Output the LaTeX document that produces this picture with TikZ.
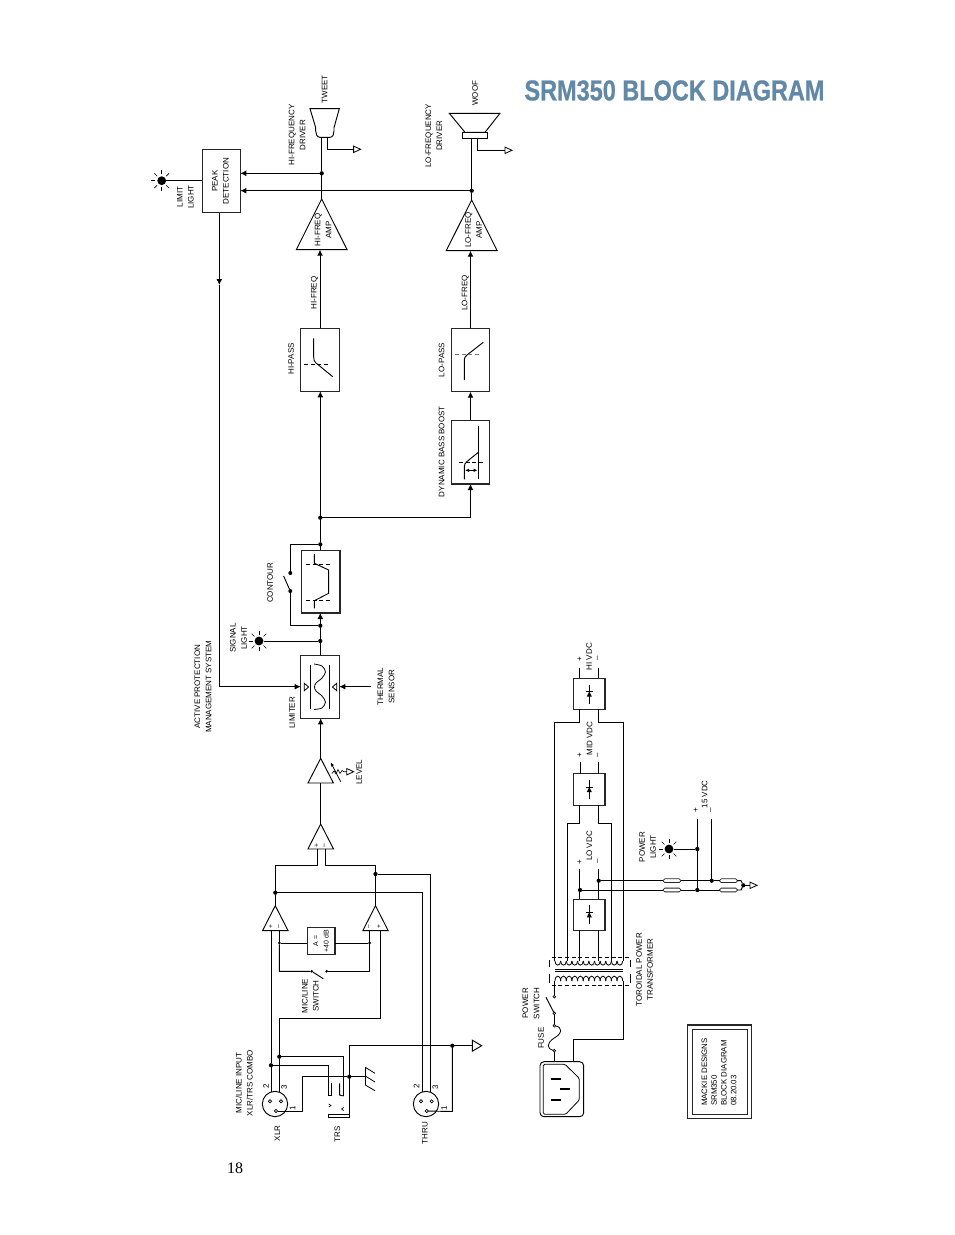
\documentclass[tikz,border=0pt]{standalone}
\usepackage{fontspec}
\setmainfont{Liberation Sans}
\newfontfamily\pgnumfont{Liberation Serif}
\newfontfamily\ttlfont[BoldFeatures={FakeBold=0.8}]{Liberation Sans}
\usetikzlibrary{arrows.meta,calc}
\definecolor{ttl}{HTML}{6288A8}
\tikzset{
  x=.75pt,y=-.75pt,
  wire/.style={draw=black,line width=.7pt},
  arr/.style={wire,-{Latex[length=4.5pt,width=4.4pt]}},
  box/.style={draw=black!85,line width=.8pt,inner sep=0pt,outer sep=0pt},
  fusebox/.style={draw=black!85,line width=.6pt,rounded corners=1.2pt,inner sep=0pt,outer sep=0pt,minimum height=2.8pt,minimum width=13.3pt},
  dot/.style={circle,fill=black,inner sep=0pt,outer sep=0pt,minimum size=3.2pt},
  smalldot/.style={circle,fill=black,inner sep=0pt,outer sep=0pt,minimum size=2.2pt},
  pinhole/.style={circle,draw=black,line width=.5pt,fill=white,inner sep=0pt,outer sep=0pt,minimum size=2.4pt},
  lbl/.style={rotate=90,inner sep=0pt,align=center,font=\fontsize{6}{8.3}\selectfont},
  sgn/.style={rotate=90,inner sep=0pt,font=\fontsize{5}{5}\selectfont},
  dsh/.style={draw=black,line width=.6pt,dash pattern=on 3pt off 2pt},
}
\newcommand{\bx}[5]{\pgfmathsetmacro\ww{(#4-#2)*.75}\pgfmathsetmacro\hh{(#5-#3)*.75}%
  \node[box,minimum width=\ww pt,minimum height=\hh pt] (#1) at ({(#2+#4)/2},{(#3+#5)/2}) {};}
\newcommand{\tri}[5]{\draw[wire] (#2,#3) -- ({#2-#5},#4) -- ({#2+#5},#4) -- cycle;
  \coordinate (#1-a) at (#2,#3); \coordinate (#1-b) at (#2,#4);}
\newcommand{\gnd}[3]{\coordinate (#1) at (#2,#3);
  \draw[wire,line width=.6pt] (#2,{#3-3.2}) -- ({#2+7},#3) -- (#2,{#3+3.2}) -- cycle;}
\newcommand{\lmp}[3]{\node[circle,fill=black,inner sep=0pt,minimum size=6.6pt] (#1) at (#2,#3) {};
  \foreach \aa in {0,45,...,315}{\draw[line width=.5pt] ($(#2,#3)+(\aa:4.8pt)$) -- ($(#2,#3)+(\aa:7.8pt)$);}}
\newcommand{\rct}[2]{\draw[wire,line width=.9pt] (#1,{#2-9.5}) -- (#1,{#2+9.5});
  \draw[wire] ({#1-3.2},{#2-2.5}) -- ({#1+3.2},{#2-2.5});
  \fill ({#1-2.5},{#2+2.5}) -- ({#1+2.5},{#2+2.5}) -- (#1,{#2-2.5}) -- cycle;}
\begin{document}
\begin{tikzpicture}
\useasboundingbox (0,0) rectangle (954,1235);
\fill[white] (0,0) rectangle (954,1235);

% title and page number
\node[text=ttl,inner sep=0pt,font=\fontsize{21.6}{24}\selectfont\ttlfont\bfseries] (title) at (674.5,90.5) {\scalebox{0.815}[1]{SRM350 BLOCK DIAGRAM}};
\node[inner sep=0pt,font=\fontsize{12}{14}\selectfont\pgnumfont] (page) at (235,1168) {18};

% ---------- outputs
\bx{peak}{202.3}{149.3}{240.3}{212.7}
\lmp{limlamp}{161.7}{180.7}
\draw[wire] (limlamp) -- (limlamp -| peak.west);
\node[lbl] (limlbl) at (185.5,197) {LIMIT\\LIGHT};
\node[lbl] (peaklbl) at (220.5,181) {PEAK\\DETECTION};

% tweeter
\draw[wire] (310,108.7) -- (339.3,108.7) -- (334,127.7) -- (334,131) .. controls (334,134) and (333,137.3) .. (330,137.3) -- (320,137.3) .. controls (317,137.3) and (315.7,134) .. (315.7,131) -- (315.7,127.7) -- cycle;
\coordinate (twb) at (321.7,137.3);
\coordinate (twg) at (327.3,137.3);
\gnd{twgnd}{353.6}{149.3}
\draw[wire] (twg) |- (twgnd);
\node[dot] (twd) at (321.7,173.3) {};
\tri{hfa}{321.7}{199}{249.7}{25.4}
\draw[wire] (twb) -- (twd) -- (hfa-a);
\draw[arr] (twd) -- (twd -| peak.east);
\node[lbl] at (324.5,89.3) (twl) {TWEET};
\node[lbl] at (297,135) (hfdl) {HI-FREQUENCY\\DRIVER};
\node[lbl] at (323,230) (hfal) {HI-FREQ\\AMP};

% woofer
\draw[wire] (449.3,113.3) -- (500,113.3) -- (485,132.3) -- (465,132.3) -- cycle;
\draw[wire] (462.3,132.3) rectangle (487.7,138.7);
\coordinate (wfb) at (471.7,138.7);
\coordinate (wfg) at (477.3,138.7);
\gnd{wfgnd}{505}{150.3}
\draw[wire] (wfg) |- (wfgnd);
\node[dot] (wfd) at (471.7,190.7) {};
\tri{lfa}{471.7}{200}{250.7}{25.5}
\draw[wire] (wfb) -- (wfd) -- (lfa-a);
\draw[arr] (wfd) -- (wfd -| peak.east);
\node[lbl] at (475,93.3) (wfl) {WOOF};
\node[lbl] at (433.8,135.7) (lfdl) {LO-FREQUENCY\\DRIVER};
\node[lbl] at (473.5,230) (lfal) {LO-FREQ\\AMP};

% filters
\bx{hp}{300.7}{328.3}{339.3}{391.3}
\bx{lp}{451.3}{328.3}{489.7}{391.7}
\bx{dbb}{451.3}{420.3}{489.7}{484}
\draw[arr] (hp.north) coordinate (hpo) -- (hpo |- hfa-b);
\draw[arr] (lp.north) coordinate (lpo) -- (lpo |- lfa-b);
\node[lbl] at (314.7,293) (hfl) {HI-FREQ};
\node[lbl] at (465.3,293) (lfl) {LO-FREQ};
\draw[wire] (313.7,338.3) -- (313.7,357) .. controls (313.7,360) and (314,361) .. (316,363) -- (332.7,376.7);
\draw[dsh] (304,364.3) -- (329.3,364.3);
\draw[wire] (464.3,380) -- (464.3,360) .. controls (464.3,357.5) and (465,357) .. (467,355) -- (483.3,342.3);
\draw[dsh,draw=black!55] (455,354.7) -- (480,354.7);
\draw[wire] (478.3,426) -- (478.3,479.3);
\draw[wire] (464.3,479.3) -- (464.3,467) .. controls (464.3,464) and (465,463.5) .. (467,461.5) -- (478.3,452.3);
\draw[dsh] (459,462.3) -- (484,462.3);
\draw[wire,{Latex[length=3pt,width=2.6pt]}-{Latex[length=3pt,width=2.6pt]}] (465,470.3) -- (477.6,470.3);
\draw[arr] (dbb.north) -- (lp.south);
\node[lbl] at (291,359) (hpl) {HI-PASS};
\node[lbl] at (441.7,360) (lpl) {LO-PASS};
\node[lbl] at (441.7,451.7) (dbbl) {DYNAMIC BASS BOOST};

% contour
\bx{cont}{301.7}{550.3}{340}{613}
\node[dot] (j1) at (320.3,517.7) {};
\node[dot] (j2) at (320.3,544.3) {};
\node[dot] (j3) at (320.3,625.7) {};
\node[dot] (j4) at (320.3,641) {};
\draw[arr] (j2) -- (j1 |- hp.south);
\draw[wire] (j2) -- (j2 |- cont.north);
\draw[arr] (j1) -| (dbb.south);
\node[smalldot,minimum size=3pt] (sw1) at (290.3,573) {};
\node[smalldot,minimum size=3pt] (sw2) at (290.3,591) {};
\coordinate (csb) at (283.6,576);
\draw[wire] (j2) -| (sw1);
\draw[wire] (sw2) |- (j3);
\draw[wire] (sw2) -- (csb);
\draw[wire] (314.3,554) -- (314.3,563.3) -- (328.7,570) -- (328.7,593.3) -- (314.3,600.7) -- (314.3,608.3);
\draw[dsh] (306,564) -- (330.7,564);
\draw[dsh] (306,600) -- (330.7,600);
\node[lbl] at (270,582.7) (contl) {CONTOUR};

% limiter
\bx{lim}{300.7}{655.3}{339.3}{718.3}
\draw[wire] (j4 |- lim.north) -- (j4) -- (j3);
\draw[arr] (j3) -- (j3 |- cont.south);
\lmp{siglamp}{259}{641}
\draw[wire] (siglamp) -- (j4);
\node[lbl] at (238.5,638) (sigl) {SIGNAL\\LIGHT};
\draw[wire] (310.3,665) -- (310.3,709.3);
\draw[wire] (329.5,665) -- (329.5,709.3);
\draw[wire,line width=.6pt] plot[smooth] coordinates {(314,664)(322,666)(325.5,672)(322,678)(316,683)(314.5,687)(316,691)(322,696)(325.5,702)(322,708)(314,709.5)};
\draw[wire,line width=.6pt] (304.3,683.3) -- (308.6,687) -- (304.3,690.7) -- cycle;
\draw[wire,line width=.6pt] (336.7,683.3) -- (332.4,687) -- (336.7,690.7) -- cycle;
\coordinate (apm) at (219.3,285);
\coordinate (apc) at (219.3,686.7);
\draw[arr] (apm |- peak.south) -- (apm);
\draw[wire] (apm) -- (apc);
\draw[arr] (apc) -- (apc -| lim.west);
\coordinate (thm) at (370.7,686.7);
\draw[arr] (thm) -- (thm -| lim.east);
\node[lbl] at (386,686.7) (thml) {THERMAL\\SENSOR};
\node[lbl] at (203,686.7) (apml) {ACTIVE PROTECTION\\MANAGEMENT SYSTEM};
\node[lbl] at (292,712.7) (liml) {LIMITER};

% level amp
\tri{lvl}{320.7}{758.3}{783}{12.7}
\draw[arr] (lvl-a) -- (lvl-a |- lim.south);
\draw[wire,line width=.6pt,-{Latex[length=3pt,width=2.6pt]}] (340.7,781.7) -- (330.7,762.3);
\gnd{lvlg}{346.7}{771.7}
\draw[wire,line width=.5pt] (332,773.5) -- (334,771) -- (336,774) -- (338,769.5) -- (340,773.5) -- (342,770.5) -- (344,771.7) -- (lvlg);
\node[lbl] at (359,772.3) (lvll) {LEVEL};

% input stage
\tri{sum}{320.7}{824}{849}{12.8}
\draw[wire] (lvl-b) -- (sum-a);
\node[sgn] (sump) at (316.7,845.3) {+};
\node[sgn] (summ) at (325,845.3) {–};
\tri{la}{275.3}{905.7}{930.7}{12.8}
\tri{ra}{375.5}{905.7}{930.7}{12.7}
\node[sgn] (lap) at (271,927) {+};
\node[sgn] (lam) at (279.3,927) {–};
\node[sgn] (ram) at (369.7,927) {–};
\node[sgn] (rap) at (379.3,927) {+};
\node[dot] (ld) at (275.3,892.7) {};
\node[dot] (rd) at (375.5,874) {};
\coordinate (sl) at (317.7,849);
\coordinate (sr) at (325.3,849);
\coordinate (t1) at (317.7,865.3);
\coordinate (t2) at (325.3,865.3);
\draw[wire] (sl) -- (t1) -| (ld) -- (la-a);
\draw[wire] (sr) -- (t2) -| (rd) -- (ra-a);
% gain box
\bx{gain}{307.3}{927.3}{335}{954.7}
\node[lbl,font=\fontsize{5.2}{8}\selectfont] (gainl) at (321,941) {A =\\+40 dB};
\coordinate (lam0) at (279.3,930.7);
\coordinate (ram0) at (369.7,930.7);
\node[smalldot] (gl) at (279.3,943) {};
\node[smalldot] (gr) at (369.7,943) {};
\draw[wire] (lam0) -- (gl) -- (gain.west |- gl);
\draw[wire] (ram0) -- (gr) -- (gain.east |- gr);
\node[smalldot] (ms1) at (311.7,971.3) {};
\node[smalldot] (ms2) at (326.7,971.3) {};
\coordinate (msb) at (323.3,978.7);
\draw[wire] (gl) |- (ms1) -- (msb);
\draw[wire] (gr) |- (ms2);
\node[lbl] at (310.3,996) (msl) {MIC/LINE\\SWITCH};

% XLR and TRS
\node[circle,draw=black,line width=.7pt,inner sep=0pt,minimum size=19pt] (xlr) at (275,1104) {};
\node[pinhole] (x2) at (270,1101.3) {};
\node[pinhole] (x3) at (281,1101.3) {};
\node[pinhole] (x1) at (276,1111) {};
\node[circle,draw=black,line width=.7pt,inner sep=0pt,minimum size=19pt] (thr) at (426,1104) {};
\node[pinhole] (t2p) at (421,1101.3) {};
\node[pinhole] (t3p) at (431.7,1101.3) {};
\node[pinhole] (t1p) at (426.7,1111) {};
\node[dot] (d3) at (279.3,1056.7) {};
\node[dot] (d2) at (271,1065.3) {};
\coordinate (l2a) at (271,930.7);
\coordinate (raplus) at (380,930.7);
\coordinate (rtn) at (380,1018.3);
\coordinate (lft) at (279.3,1018.3);
\coordinate (xb2) at (271,1092);
\coordinate (xb3) at (279.3,1091.8);
\draw[wire] (l2a) -- (d2) -- (xb2);
\draw[wire] (raplus) -- (rtn) -- (lft) -- (d3) -- (xb3);
\coordinate (tip3) at (343.5,1096);
\coordinate (tip2) at (328.7,1095);
\draw[wire] (d3) -| (tip3);
\draw[wire] (d2) -| (tip2) -- (331.7,1095) -- (331.7,1083.3);
\draw[wire] (339.7,1083.3) -- (339.7,1095) -- (tip3);
\draw[wire,line width=.5pt] (328.7,1104) -- (331,1105.5) -- (328.7,1107);
\draw[wire,line width=.5pt] (343.7,1107.5) -- (341.5,1109) -- (343.7,1110.5);
\draw[wire] (328.3,1114) rectangle (349.3,1117.3);
\node[dot] (gj) at (349.3,1076.7) {};
\coordinate (pin1a) at (302.3,1111);
\coordinate (pin1b) at (302.3,1076.7);
\draw[wire] (x1) -- (pin1a) -- (pin1b) -- (gj);
\coordinate (chs) at (365.3,1076.7);
\draw[wire] (gj) -- (chs);
\draw[wire] (365.3,1067.3) -- (365.3,1085);
\draw[wire,line width=.6pt] (365.3,1067.3) -- (375,1073.3);
\draw[wire,line width=.6pt] (365.3,1076) -- (375,1082);
\draw[wire,line width=.6pt] (365.3,1085) -- (375,1090.7);
\coordinate (slv) at (349.3,1114);
\coordinate (slt) at (349.3,1045.7);
\node[dot] (tg) at (452.3,1045.7) {};
\coordinate (th1) at (452.3,1111.5);
\draw[wire] (slv) -- (gj) -- (slt) -- (tg);
\draw[wire] (tg) -- (th1) -- (t1p);
\draw[wire,line width=.7pt] (472.3,1040.2) -- (481.7,1045.7) -- (472.3,1051.2) -- cycle;
\coordinate (maing) at (472.3,1045.7);
\draw[wire] (tg) -- (maing);
\coordinate (r1) at (430.7,874);
\coordinate (r2) at (422.7,892.7);
\draw[wire] (rd) -- (r1) -- (430.7,1092.2);
\draw[wire] (ld) -- (r2) -- (422.7,1091.6);
\foreach \xx/\yy/\tt [count=\cc] in {266/1086.7/2,284/1087.3/3,292.7/1108.7/1,416.7/1086.7/2,435.3/1087/3,444/1108/1}
  \node[lbl] (pinnum\cc) at (\xx,\yy) {\tt};
\node[lbl] at (277.3,1133.3) (xlrl) {XLR};
\node[lbl] at (337.3,1134) (trsl) {TRS};
\node[lbl] at (425,1133.3) (thrl) {THRU};
\node[lbl] at (244.3,1083) (micl) {MIC/LINE INPUT\\XLR/TRS COMBO};

% ---------- power supply
\bx{hib}{573.3}{678.3}{605}{709.3}
\bx{midb}{573.3}{773.7}{605}{805.3}
\bx{lob}{573.3}{899.3}{605}{930.3}
\rct{589.3}{694}
\rct{589.3}{789.5}
\rct{589.3}{914.8}
\node[lbl] at (589,656.7) (hivl) {HI VDC};
\node[lbl] at (589.7,738.7) (mivl) {MID VDC};
\node[lbl] at (589.3,846) (lovl) {LO VDC};
\coordinate (hA) at (579.7,668.3); \coordinate (hB) at (598.3,668.3);
\coordinate (mA) at (580.3,762.3); \coordinate (mB) at (598.3,762.3);
\coordinate (lA) at (579.7,869.3); \coordinate (lB) at (598.3,869.3);
\draw[wire] (hA) -- (hA |- hib.north);
\draw[wire] (hB) -- (hB |- hib.north);
\draw[wire] (mA) -- (mA |- midb.north);
\draw[wire] (mB) -- (mB |- midb.north);
\foreach \px/\py/\sg [count=\cc] in {579.7/658.7/+,598.3/658.7/–,579.7/755/+,598.3/755/–,579.7/861.7/+,598.3/861.7/–,696/810/+,711.7/810/–}
  \node[lbl] (vsign\cc) at (\px,\py) {\sg};
% transformer leads
\coordinate (k1) at (554.3,961);
\coordinate (k2) at (567.3,961);
\coordinate (k3) at (579.7,961);
\coordinate (k4) at (598.3,961);
\coordinate (k5) at (611.3,961);
\coordinate (k6) at (623.7,961);
\coordinate (c1) at (579.7,722.3);
\coordinate (c2) at (598.3,722.3);
\coordinate (c3) at (579.7,823);
\coordinate (c4) at (598.3,823);
\draw[wire] (c1 |- hib.south) -- (c1) -| (k1);
\draw[wire] (c2 |- hib.south) -- (c2) -| (k6);
\draw[wire] (c3 |- midb.south) -- (c3) -| (k2);
\draw[wire] (c4 |- midb.south) -- (c4) -| (k5);
\draw[wire] (k3 |- lob.south) -- (k3);
\draw[wire] (k4 |- lob.south) -- (k4);
% coils
\foreach \i in {0,...,11}{
  \draw[wire,line width=.6pt] ({555+\i*5.64},961) .. controls ({555+\i*5.64},966.5) and ({555+(\i+1)*5.64},966.5) .. ({555+(\i+1)*5.64},961);
  \draw[wire,line width=.6pt] ({555+\i*5.64},981) .. controls ({555+\i*5.64},974.5) and ({555+(\i+1)*5.64},974.5) .. ({555+(\i+1)*5.64},981);
}
\draw[wire,line width=.6pt] (555,969.3) -- (622.7,969.3);
\draw[wire,line width=.6pt] (555,971.8) -- (622.7,971.8);
\draw[dsh] (551.7,957) -- (630,957);
\draw[dsh] (551.7,985) -- (630,985);
\draw[wire,line width=.6pt] (549,960) -- (549,967.3);
\draw[wire,line width=.6pt] (549,974) -- (549,983);
\draw[wire,line width=.6pt] (630.7,960) -- (630.7,967.3);
\draw[wire,line width=.6pt] (630.7,974) -- (630.7,983);
\node[lbl] at (644.7,969.5) (toil) {TOROIDAL POWER\\TRANSFORMER};

% low voltage rails
\node[dot] (rm) at (598.7,880.7) {};
\node[dot] (rp) at (580,890) {};
\draw[wire] (lA) -- (lA |- lob.north);
\draw[wire] (lB) -- (lB |- lob.north);
\node[fusebox] (f1) at (672,880.7) {};
\node[fusebox] (f2) at (672,890) {};
\node[fusebox] (f3) at (728.5,880.7) {};
\node[fusebox] (f4) at (728.5,890) {};
\node[dot] (vm) at (711.7,880.7) {};
\node[dot] (vp) at (697.3,890) {};
\node[dot] (com) at (743.3,885.3) {};
\draw[wire] (rm) -- (f1) -- (vm) -- (f3);
\draw[wire] (rp) -- (f2) -- (vp) -- (f4);
\coordinate (fm) at (741,880.7);
\coordinate (fp) at (741,890);
\draw[wire] (f3) -- (fm) -- (com);
\draw[wire] (f4) -- (fp) -- (com);
\gnd{pg}{750}{885.3}
\draw[wire] (com) -- (pg);
\coordinate (vpt) at (697.3,819);
\coordinate (vmt) at (711.7,819);
\node[dot] (vl) at (697.3,849) {};
\draw[wire] (vpt) -- (vl) -- (vp);
\draw[wire] (vmt) -- (vm);
\lmp{pwlamp}{669}{849}
\draw[wire] (pwlamp) -- (vl);
\node[lbl] at (647.7,847) (pwl) {POWER\\LIGHT};
\node[lbl] at (704.7,794.3) (vl15) {15 VDC};

% mains
\node[pinhole,minimum size=2pt] (ps1) at (554.3,996.7) {};
\node[pinhole,minimum size=2pt] (ps2) at (554.3,1013.3) {};
\node[pinhole,minimum size=2pt] (fs1) at (554.3,1025.7) {};
\node[pinhole,minimum size=2pt] (fs2) at (554.3,1050.7) {};
\draw[wire] (554.3,981) -- (ps1);
\draw[wire] (ps2) -- (fs1);
\draw[wire] (ps2) -- (546,997.3);
\draw[wire,line width=.6pt] (fs1) .. controls (562,1027) and (563,1033) .. (554.3,1038) .. controls (546,1043) and (547,1049) .. (fs2);
\coordinate (pl1) at (554.3,1061.7);
\coordinate (pl2) at (573.3,1061.7);
\draw[wire] (fs2) -- (pl1);
\coordinate (pr1) at (623.7,981);
\coordinate (pr2) at (623.7,1039.3);
\coordinate (pr3) at (573.3,1039.3);
\draw[wire] (pr1) -- (pr2) -- (pr3) -- (pl2);
\node[lbl] at (531,1003.3) (pswl) {POWER\\SWITCH};
\node[lbl] at (541,1038.3) (fusl) {FUSE};
\draw[wire,rounded corners=3pt] (540,1061.7) rectangle (583.7,1116.7);
\draw[wire,line width=.6pt,rounded corners=1pt] (543.3,1064.3) -- (565,1064.3) -- (579.3,1078.3) -- (579.3,1100) -- (565.7,1114.3) -- (543.3,1114.3) -- cycle;
\draw[line width=1.5pt] (550.7,1079) -- (561,1079);
\draw[line width=1.5pt] (560,1089.3) -- (570,1089.3);
\draw[line width=1.5pt] (550.7,1100.3) -- (561,1100.3);

% title block
\bx{tbo}{687.7}{1025}{751.3}{1118.3}
\bx{tbi}{692.3}{1029.3}{747.7}{1114.3}
\node[rotate=90,inner sep=0pt,align=left,font=\fontsize{5.9}{7.35}\selectfont] (tbt) at (719,1072) {MACKIE DESIGNS\\SRM350\\BLOCK DIAGRAM\\08.20.03};
\end{tikzpicture}
\end{document}
